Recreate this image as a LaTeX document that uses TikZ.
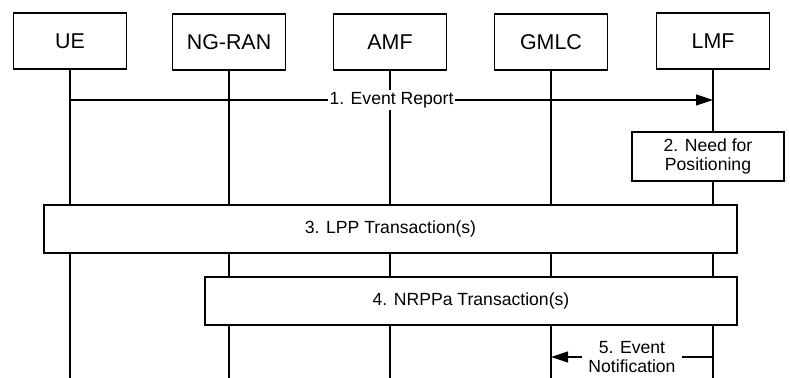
\documentclass[tikz,border=0pt]{standalone}
\usepackage{fontspec}
\setmainfont{Liberation Sans}
\usepackage{tikz}
\usetikzlibrary{positioning,calc,arrows.meta}

\begin{document}
\begin{tikzpicture}[x=0.5pt, y=-0.5pt, line width=0.6pt,
					entity/.style={
						draw=black, fill=white,
						minimum width=56.5pt, minimum height=28pt,
						font=\fontsize{10.7}{12}\selectfont, anchor=center
					},
					actbox/.style={
						draw=black, fill=white, minimum height=24pt,
						font=\fontsize{8.8}{9.6}\selectfont, align=center, anchor=center
					},
					msg/.style={-{Triangle[length=8.5pt,width=5.5pt]}},
					msglbl/.style={
						fill=white, inner sep=1pt,
						font=\fontsize{8.8}{9.4}\selectfont, align=center
					}
					]
					\useasboundingbox (0,0) rectangle (790,378);
					% Kopfzeile mit den Netzelementen
					\node[entity] (ue)    at (70, 41)  {UE};
					\node[entity] (ngran) at (229, 42) {NG-RAN};
					\node[entity] (amf)   at (390, 42) {AMF};
					\node[entity] (gmlc)  at (551, 42) {GMLC};
					\node[entity] (lmf)   at (713, 41) {LMF};
					\coordinate (bottom) at (0, 378);
					\coordinate (m1) at (0, 100);
					\coordinate (m5) at (0, 357);
					% Lebenslinien
					\foreach \n in {ue, ngran, amf, gmlc, lmf}
						\draw (\n.south) -- (\n |- bottom);
					% Nachrichten und Prozeduren
					\draw[msg] (ue |- m1) -- node[msglbl] {1. Event Report} (lmf |- m1);
					\node[actbox, minimum width=76pt, minimum height=23.5pt] (need) at (708, 156.5) {2. Need for\\Positioning};
					\node[actbox, minimum width=346.5pt] (lpp) at (390.5, 229) {3. LPP Transaction(s)};
					\node[actbox, minimum width=266pt] (nrppa) at (471, 301) {4. NRPPa Transaction(s)};
					\draw[msg] (lmf |- m5) -- node[msglbl, inner xsep=3pt] {5. Event\\Notification} (gmlc |- m5);
				\end{tikzpicture}
\end{document}
